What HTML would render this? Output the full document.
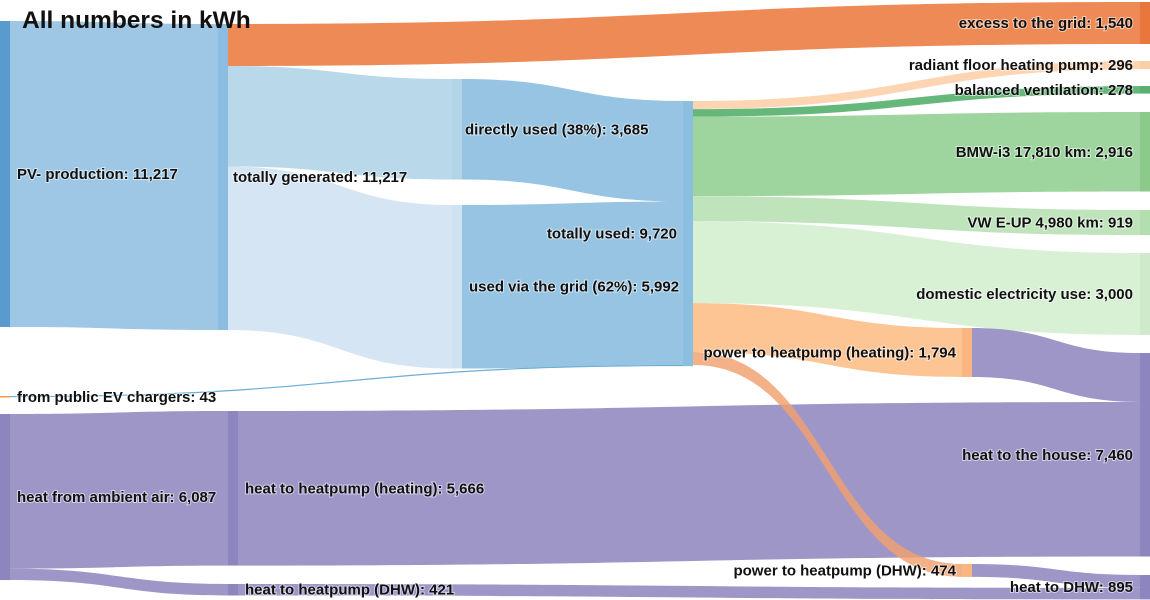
<!DOCTYPE html>
<html><head><meta charset="utf-8"><style>
html,body{margin:0;padding:0;background:#fff;}
svg{display:block;font-family:"Liberation Sans",Arial,sans-serif;}
.lbl{font-size:15px;font-weight:bold;fill:#111;paint-order:stroke;stroke:#fff;stroke-width:2px;stroke-opacity:0.55;}
</style></head><body>
<svg id="chart" width="1150" height="600" viewBox="0 0 1150 600">
<g id="links"></g>
<g id="nodes"></g>
<g id="labels"></g>
<text x="22" y="28" font-size="24.5" font-weight="bold" fill="#111">All numbers in kWh</text>
</svg>
<script>
const nodeNames = ["PV- production","totally generated","directly used (38%)","used via the grid (62%)","totally used","excess to the grid","radiant floor heating pump","balanced ventilation","BMW-i3 17,810 km","VW E-UP 4,980 km","domestic electricity use","power to heatpump (heating)","power to heatpump (DHW)","heat to the house","heat to DHW","heat from ambient air","heat to heatpump (heating)","heat to heatpump (DHW)","from public EV chargers"];
const nodeValues = [11217,11217,3685,5992,9720,1540,296,278,2916,919,3000,1794,474,7460,895,6087,5666,421,43];
const linkSources = [0,1,1,1,2,3,18,4,4,4,4,4,4,15,15,11,16,12,17,4];
const linkTargets = [1,5,2,3,4,4,4,6,7,8,9,10,11,16,17,13,13,14,14,12];
const linkValues  = [11217,1540,3685,5992,3685,5992,43,296,278,2916,919,3000,1794,5666,421,1794,5666,474,421,474];

// layout (positions, not data)
const nodeX = [0,218,452,452,683,1140,1140,1140,1140,1140,1140,962,962,1140,1140,0,228,228,0];
const nodeY = [21,24,79,205,101,2,61,86,112,210,253,328,564,353,575,414,411,584,396];
const nodeW = 10;
const K = 0.02728;
const nodeColors = ["#5a9bcf","#8cbde0","#b2d4e7","#cfe2f1","#8bbfe0","#e8773e","#fdcfa6","#5bb070","#8cca8c","#b3dfb0","#cfeacb","#f9b681","#f9b681","#8c85be","#8c85be","#8c85be","#8c85be","#8c85be","#f39c4a"];
const linkColors = ["#9dc7e4","#ee8a56","#b9d9ea","#d5e5f3","#97c4e2","#97c4e2","#6baed6","#fdd5b2","#66b87a","#9ed59f","#bfe4bc","#d8f0d4","#fdc494","#9e96c7","#9e96c7","#9e96c7","#9e96c7","#9e96c7","#9e96c7","rgba(240,160,110,0.82)"];
// label placement: [anchor, x, dy]
const labelPos = [["start",17,0],["start",233,0],["start",465,0],["start",469,0],["end",677,0],["end",1133,0],["end",1133,0],["end",1133,0],["end",1133,0],["end",1133,0],["end",1133,0],["end",956,0],["end",956,0],["end",1133,0],["end",1133,0],["start",17,0],["start",245,0],["start",245,0],["start",17,0]];
const fmt = v => v.toLocaleString("en-US");
const NS = "http://www.w3.org/2000/svg";
const gL = document.getElementById("links"), gN = document.getElementById("nodes"), gT = document.getElementById("labels");
const outOff = nodeValues.map(()=>0), inOff = nodeValues.map(()=>0);
linkValues.forEach((v,i)=>{
  const s=linkSources[i], t=linkTargets[i];
  const h=Math.max(v*K,1);
  const y0=nodeY[s]+outOff[s]; outOff[s]+=v*K;
  const y1=nodeY[t]+inOff[t]; inOff[t]+=v*K;
  const x0=nodeX[s]+nodeW, x1=nodeX[t];
  const mx=(x0+x1)/2;
  const d=`M${x0},${y0} C${mx},${y0} ${mx},${y1} ${x1},${y1} L${x1},${y1+h} C${mx},${y1+h} ${mx},${y0+h} ${x0},${y0+h} Z`;
  const p=document.createElementNS(NS,"path");
  p.setAttribute("d",d);
  p.setAttribute("fill",linkColors[i]);
  
  
  gL.appendChild(p);
});
nodeValues.forEach((v,i)=>{
  const h=Math.max(v*K,1.5);
  const r=document.createElementNS(NS,"rect");
  r.setAttribute("x",nodeX[i]); r.setAttribute("y",nodeY[i]);
  r.setAttribute("width",nodeW); r.setAttribute("height",h);
  r.setAttribute("fill",nodeColors[i]);
  
  
  gN.appendChild(r);
  const lp=labelPos[i];
  const t=document.createElementNS(NS,"text");
  t.setAttribute("class","lbl");
  t.setAttribute("text-anchor",lp[0]);
  t.setAttribute("x",lp[1]);
  t.setAttribute("y",nodeY[i]+h/2+5+lp[2]);
  t.textContent=nodeNames[i]+": "+fmt(v);
  
  
  gT.appendChild(t);
});
</script>
</body></html>
